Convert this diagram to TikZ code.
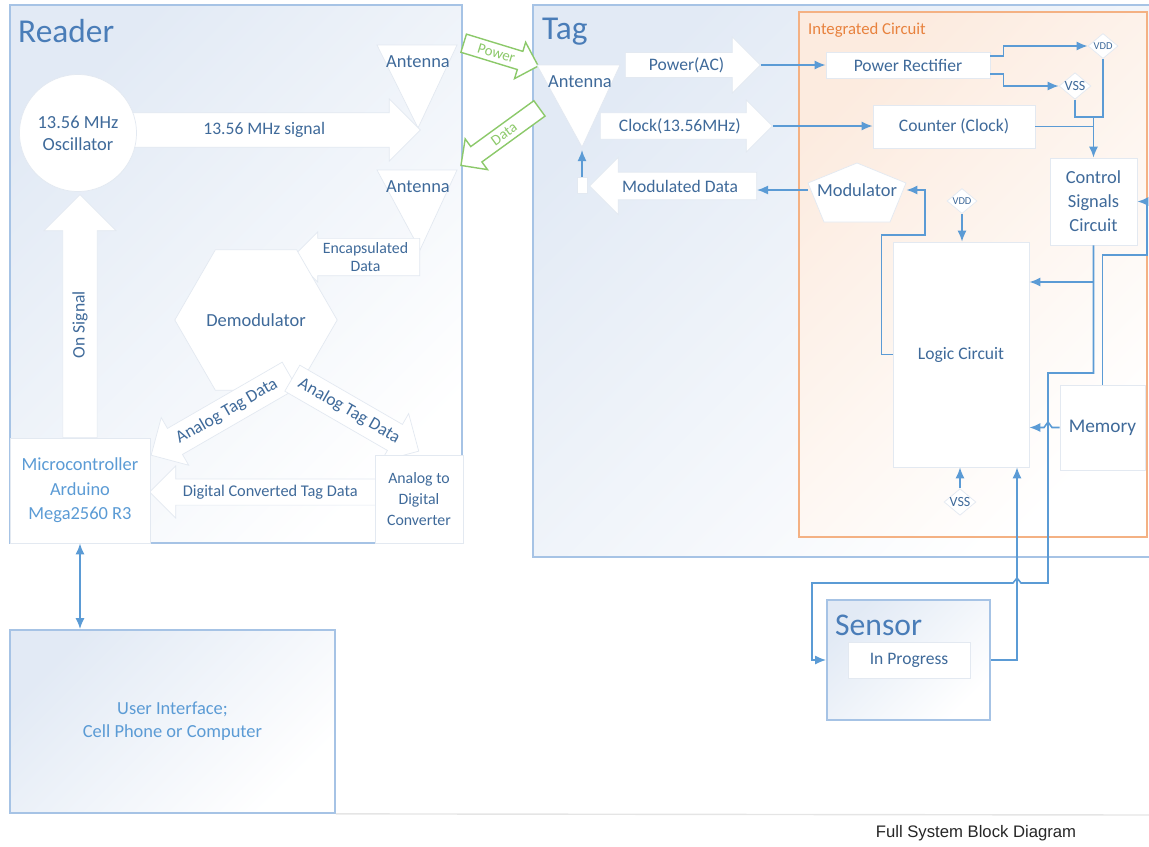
\documentclass[tikz,border=0pt]{standalone}
\usepackage{fontspec}
\setmainfont{Carlito}
\newfontfamily\capfont{Liberation Sans}
\usetikzlibrary{arrows.meta, positioning, shapes.geometric, shapes.arrows}

\definecolor{txtblue}{HTML}{3F6A9A}
\definecolor{ttlblue}{HTML}{4A7DB8}
\definecolor{lineblue}{HTML}{5B9BD5}
\definecolor{frameblue}{HTML}{A6C3E5}
\definecolor{bgblue}{HTML}{E2EAF5}
\definecolor{ghost}{HTML}{E3E9F1}
\definecolor{icline}{HTML}{F4B183}
\definecolor{icfill}{HTML}{FCEBDF}
\definecolor{ictext}{HTML}{E8823E}
\definecolor{rfgreen}{HTML}{8CC96A}

\tikzset{
    panel/.style={draw=frameblue, line width=1.1pt, top color=bgblue, bottom color=white, shading angle=45},
    hdr/.style={anchor=west, text=ttlblue, font=\fontsize{19}{22}\selectfont},
    lbl/.style={text=txtblue, font=\fontsize{10}{12}\selectfont, align=center},
    wbox/.style={lbl, rectangle, draw=ghost, fill=white, inner sep=1pt},
    blk/.style={lbl, single arrow, draw=ghost, fill=white, inner xsep=0pt},
    rail/.style={diamond, draw=ghost, fill=white, text=txtblue, inner sep=0pt, aspect=1.2, font=\fontsize{6}{7}\selectfont},
    wire/.style={draw=lineblue, line width=0.9pt},
    wtip/.style={wire, -{Latex[length=2.2mm, width=1.8mm]}},
    rflink/.style={single arrow, draw=rfgreen, line width=0.8pt, fill=white, text=rfgreen, inner xsep=0pt, inner ysep=1.4pt, font=\fontsize{8.5}{10}\selectfont}
}

\begin{document}
\begin{tikzpicture}[x=0.02cm, y=-0.02cm]
\useasboundingbox (0,0) rectangle (1149,846);

% frames
\path[panel] (10,5) rectangle (462,543);
\path[panel] (1149,557) -- (533,557) -- (533,5) -- (1149,5);
\path[draw=icline, line width=1.1pt, top color=icfill, bottom color=white, shading angle=45] (799,12) rectangle (1147,537);
\node[hdr] (reader) at (12,31) {Reader};
\node[hdr] (tag) at (536,32) {Tag};
\node[anchor=west, text=ictext, font=\fontsize{9.5}{11}\selectfont] (ic) at (802,30) {Integrated Circuit};

% reader side
\path[draw=ghost, fill=white] (377,45) -- (457,45) -- (418,128) -- cycle;
\node[lbl, font=\fontsize{10.5}{12}\selectfont] (antA) at (418,62) {Antenna};
\path[draw=ghost, fill=white] (377,170) -- (457,170) -- (420,250) -- cycle;
\node[lbl, font=\fontsize{10.5}{12}\selectfont] (antB) at (418,187) {Antenna};
\node[blk, anchor=tail, inner ysep=5pt, minimum height=5.9cm, minimum width=1.24cm, single arrow head extend=0.27cm] (sig) at (125,130) {13.56 MHz signal};
\node[lbl, circle, fill=white, draw=ghost, minimum size=2.34cm, inner sep=0pt, font=\fontsize{10.5}{12.5}\selectfont] (osc) at (78,133) {13.56 MHz\\Oscillator};
\node[blk, rotate=90, anchor=tail, inner ysep=5pt, minimum height=4.86cm, minimum width=1.44cm, single arrow head extend=0.37cm] (onsig) at (80,438) {On Signal};
\node[blk, shape border rotate=180, anchor=tail, inner ysep=0pt, minimum height=2.54cm, minimum width=1.0cm, single arrow head extend=0.1cm, font=\fontsize{9}{10}\selectfont] (enc) at (420,257) {Encapsulated\\Data};
\node[lbl, regular polygon, regular polygon sides=6, minimum size=2.8cm, inner sep=0pt, draw=ghost, fill=white, font=\fontsize{10.5}{12}\selectfont] (demod) at (256,320) {Demodulator};
\node[blk, rotate=30, shape border rotate=180, anchor=tail, inner ysep=3pt, minimum height=3.2cm, minimum width=1.1cm, single arrow head extend=0.22cm] (anL) at (290,375) {Analog Tag Data};
\node[blk, rotate=-30, anchor=tail, inner ysep=3pt, minimum height=2.92cm, minimum width=1.1cm, single arrow head extend=0.22cm] (anR) at (292,378) {Analog Tag Data};
\node[blk, shape border rotate=180, anchor=tail, inner ysep=3pt, minimum height=4.56cm, minimum width=1.04cm, single arrow head extend=0.25cm, font=\fontsize{9.3}{11}\selectfont] (dig) at (378,492) {Digital Converted Tag Data};
\node[wbox, minimum width=2.8cm, minimum height=2.1cm, text=lineblue, font=\fontsize{10.5}{14}\selectfont] (mcu) at (80,490.5) {Microcontroller\\Arduino\\Mega2560 R3};
\node[wbox, minimum width=1.76cm, minimum height=1.76cm, font=\fontsize{9}{12}\selectfont] (adc) at (419,499) {Analog to\\Digital\\Converter};
\node[draw=frameblue, line width=1pt, top color=bgblue, bottom color=white, shading angle=45, minimum width=6.5cm, minimum height=3.66cm, text=lineblue, align=center, font=\fontsize{10.5}{13}\selectfont] (ui) at (172.5,721.5) {User Interface;\\Cell Phone or Computer};
\draw[wire, {Latex[length=2.2mm, width=1.8mm]}-{Latex[length=2.2mm, width=1.8mm]}] (mcu.south) -- (mcu.south |- ui.north);

% wireless links
\node[rflink, rotate=-17, anchor=tail, minimum height=1.56cm, minimum width=0.76cm, single arrow head extend=0.16cm] (pw) at (463,43) {Power};
\node[rflink, rotate=36, shape border rotate=180, anchor=tail, minimum height=1.94cm, minimum width=0.76cm, single arrow head extend=0.16cm] (dt) at (540,108) {Data};

% tag side
\path[draw=ghost, fill=white] (537,65) -- (620,65) -- (582,147) -- cycle;
\node[lbl, font=\fontsize{10.5}{12}\selectfont] (antT) at (580,82) {Antenna};
\coordinate (antTtip) at (582,150);
\node[draw=ghost, fill=white, minimum width=0.2cm, minimum height=0.32cm, inner sep=0pt] (feed) at (582,185) {};
\draw[wtip] (feed.north) -- (antTtip);
\node[blk, anchor=tail, inner ysep=2.4pt, minimum height=2.7cm, minimum width=1.12cm, single arrow head extend=0.3cm] (pac) at (625,65) {Power(AC)};
\node[blk, anchor=tail, inner ysep=2.7pt, minimum height=3.44cm, minimum width=1.04cm, single arrow head extend=0.25cm] (clk) at (600,126) {Clock(13.56MHz)};
\node[blk, shape border rotate=180, anchor=tail, inner ysep=3.5pt, minimum height=3.34cm, minimum width=1.14cm, single arrow head extend=0.27cm] (mdata) at (757,186) {Modulated Data};

% integrated circuit
\node[wbox, minimum width=3.28cm, minimum height=0.52cm] (rect) at (908,65) {Power Rectifier};
\node[rail, minimum width=0.6cm, minimum height=0.5cm] (vdda) at (1103,46) {VDD};
\node[rail, minimum width=0.6cm, minimum height=0.5cm, font=\fontsize{8}{9}\selectfont] (vssa) at (1075,86) {VSS};
\node[wbox, minimum width=3.24cm, minimum height=0.86cm] (cnt) at (954,126.5) {Counter (Clock)};
\node[wbox, minimum width=1.74cm, minimum height=1.74cm, font=\fontsize{10.5}{13.6}\selectfont] (ctl) at (1093.5,201.5) {Control\\Signals\\Circuit};
\path[draw=ghost, fill=white] (857,163) -- (906,183) -- (890,222) -- (824,222) -- (808,183) -- cycle;
\node[lbl, minimum width=1.96cm, inner sep=0pt, font=\fontsize{10.5}{12}\selectfont] (modu) at (857,190) {Modulator};
\node[rail, minimum width=0.6cm, minimum height=0.5cm] (vddb) at (962,201) {VDD};
\node[wbox, minimum width=2.72cm, minimum height=4.5cm] (logic) at (961,354.5) {Logic Circuit};
\node[rail, minimum width=0.6cm, minimum height=0.5cm, font=\fontsize{8}{9}\selectfont] (vssb) at (960,502) {VSS};
\node[wbox, minimum width=1.7cm, minimum height=1.7cm, font=\fontsize{11}{13}\selectfont] (mem) at (1102.5,427.5) {Memory};

% sensor
\node[draw=frameblue, line width=1pt, top color=bgblue, bottom color=white, shading angle=45, minimum width=3.26cm, minimum height=2.4cm] (sens) at (908.5,660) {};
\node[hdr, font=\fontsize{18}{20}\selectfont] (senst) at (829,625) {Sensor};
\node[wbox, minimum width=2.44cm, minimum height=0.72cm] (prog) at (909,660) {In Progress};

% wiring
\draw[wtip] (pac.tip) -- (rect.west);
\draw[wtip] (clk.tip) -- (clk.tip -| cnt.west);
\draw[wtip] (modu.west) -- (modu.west -| mdata.tail);
\draw[wtip] ([yshift=5pt]rect.east) -- ++(13,0) |- (vdda.west);
\draw[wtip] ([yshift=-5pt]rect.east) -- ++(13,0) |- (vssa.west);
\coordinate (jn) at (ctl.north |- 0,117);
\draw[wire] (vdda.south) |- (jn);
\draw[wire] (vssa.south) |- (jn);
\draw[wire] (cnt.east) -- (cnt.east -| ctl.north);
\draw[wtip] (jn) -- (ctl.north);
\draw[wtip] (ctl.south |- 0,282) -- (logic.east |- 0,282);
\draw[wtip] (ctl.south) |- (1048,373) -- (1048,583) -- (1021,583) -- (1017,578) -- (1013,583) -| (812,660) -- (sens.west);
\draw[wtip] (mem.north) |- (1147,255) |- (ctl.east);
\draw[wtip] (mem.west) -- (1052,427.5) -- (1048,422) -- (1044,427.5) -- (logic.east |- mem.west);
\draw[wtip] (sens.east) -| (logic.south -| 1017,0);
\draw[wtip] (logic.west) -- ++(-11,0) |- (925,235) |- (modu.east);
\draw[wtip] (vddb.south) -- (vddb.south |- logic.north);
\draw[wtip] (vssb.north) -- (vssb.north |- logic.south);

% page foot
\draw[gray!20, line width=0.8pt] (ui.south east) -- (1149,815);
\node[font=\capfont\fontsize{9.5}{11}\selectfont, text=black!85] (cap) at (976,833) {Full System Block Diagram};
\end{tikzpicture}
\end{document}
